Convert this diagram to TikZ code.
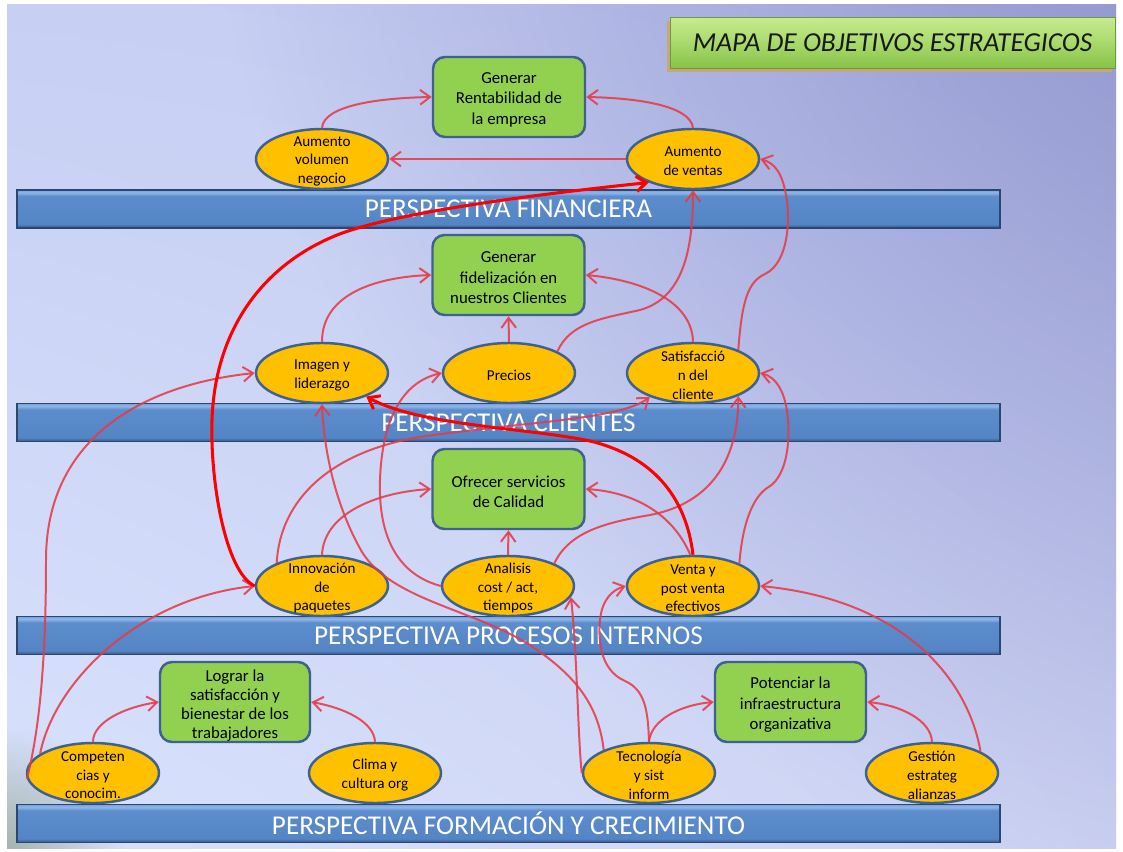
\documentclass[tikz,border=0pt]{standalone}
\usepackage{fontspec}
\setmainfont{Carlito}
\usetikzlibrary{arrows.meta,shapes.geometric,fadings,shadings}
\definecolor{edgeblue}{HTML}{3E6190}
\definecolor{boxgreen}{HTML}{92D050}
\definecolor{ellfill}{HTML}{FFC000}
\definecolor{connred}{HTML}{E63A48}
\definecolor{boldred}{HTML}{FF0000}
\definecolor{baredge}{HTML}{2B4670}
\definecolor{titleshadow}{HTML}{C7A77A}
\definecolor{titleedge}{HTML}{6E9A3A}
\definecolor{cornergreen}{HTML}{8A9C86}
\definecolor{bgUL}{HTML}{C7CFF3}
\definecolor{bgUR}{HTML}{C5CCF1}
\definecolor{bgLL}{HTML}{D8E2FC}
\definecolor{bgLR}{HTML}{CDD3F3}
\definecolor{bgdark}{HTML}{7F83C3}
\pgfdeclareverticalshading{barshade}{100bp}{rgb(0bp)=(0.20,0.33,0.53); rgb(25bp)=(0.20,0.33,0.53); rgb(30bp)=(0.33,0.52,0.77); rgb(67bp)=(0.36,0.55,0.80); rgb(71.5bp)=(0.56,0.71,0.91); rgb(75bp)=(0.47,0.64,0.86); rgb(100bp)=(0.47,0.64,0.86)}
\pgfdeclareverticalshading{titleshade}{100bp}{rgb(0bp)=(0.53,0.76,0.28); rgb(25bp)=(0.53,0.76,0.28); rgb(50bp)=(0.66,0.85,0.42); rgb(75bp)=(0.78,0.92,0.56); rgb(100bp)=(0.78,0.92,0.56)}
\tikzfading[name=cornerfade, inner color=transparent!35, outer color=transparent!100]
\tikzfading[name=darkfade, inner color=transparent!0, outer color=transparent!100]
\tikzset{
  ell/.style={ellipse, draw=edgeblue, line width=2.1pt, fill=ellfill, minimum width=3.96cm, minimum height=1.8cm, inner sep=0pt},
  etext/.style={align=center, font=\fontsize{12.9}{15.9}\selectfont, inner sep=0pt, text=black, yshift=-0.07cm},
  gbox/.style={rectangle, rounded corners=0.36cm, draw=edgeblue, line width=2.1pt, fill=boxgreen, minimum width=4.56cm, minimum height=2.4cm, inner sep=0pt},
  gtext/.style={align=center, font=\fontsize{14.3}{17.5}\selectfont, inner sep=0pt, text=black, yshift=-0.08cm},
  bar/.style={rectangle, shade, shading=barshade, draw=baredge, line width=1.2pt, minimum width=29.49cm, minimum height=1.14cm, inner sep=0pt, text=white, font=\fontsize{23.2}{28}\selectfont},
  titlebox/.style={rectangle, shade, shading=titleshade, draw=titleedge, line width=0.8pt, minimum width=13.35cm, minimum height=1.53cm, inner sep=0pt, text=black!90, font=\itshape\fontsize{23.4}{28}\selectfont},
  conn/.style={draw=connred, draw opacity=0.88, line width=1.7pt, -{Straight Barb[length=3mm,width=4.4mm]}},
  boldconn/.style={draw=boldred, line width=2.6pt, -{Straight Barb[length=3mm,width=4.6mm]}}
}
\begin{document}
\begin{tikzpicture}[x=0.03cm,y=-0.03cm]
\useasboundingbox (0,0) rectangle (1123,852);
\fill[white] (0,0) rectangle (1123,852);
% background
\begin{scope}
\clip (7,5) rectangle (1116,848);
\shade[upper left=bgUL, upper right=bgUR, lower left=bgLL, lower right=bgLR] (7,5) rectangle (1116,848);
\fill[bgdark, path fading=darkfade] (1400,-250) circle (1200);
\fill[cornergreen, path fading=cornerfade] (7,848) circle (120);
\end{scope}
% title
\fill[titleshadow] (667,21) rectangle (1112,72);
\node[titlebox] (title) at (892.5,43) {MAPA DE OBJETIVOS ESTRATEGICOS};
% bars
\node[bar] (finbar) at (508.5,209) {PERSPECTIVA FINANCIERA};
\node[bar] (clibar) at (508.5,422.5) {PERSPECTIVA CLIENTES};
\node[bar] (probar) at (508.5,635.5) {PERSPECTIVA PROCESOS INTERNOS};
\node[bar] (forbar) at (508.5,823.5) {PERSPECTIVA FORMACIÓN Y CRECIMIENTO};
% green boxes
\node[gbox] (g1) at (509,97) {};
\node[gbox] (g2) at (508.5,275) {};
\node[gbox] (g3) at (508.5,489) {};
\node[gbox, minimum width=4.5cm] (g4) at (235,702) {};
\node[gbox, minimum width=4.53cm] (g5) at (790.5,702) {};
\node[gtext] (g1-t) at (g1) {Generar\\Rentabilidad de\\la empresa};
\node[gtext] (g2-t) at (g2) {Generar\\fidelización en\\nuestros Clientes};
\node[gtext] (g3-t) at (g3) {Ofrecer servicios\\de Calidad};
\node[gtext, font=\fontsize{14.3}{16}\selectfont, yshift=-0.03cm] (g4-t) at (g4) {Lograr la\\satisfacción y\\bienestar de los\\trabajadores};
\node[gtext] (g5-t) at (g5) {Potenciar la\\infraestructura\\organizativa};
% ellipses
\node[ell] (avn) at (322,159) {};
\node[ell] (av) at (693,159) {};
\node[ell] (img) at (322,373) {};
\node[ell] (pre) at (509,373) {};
\node[ell] (sat) at (693,373) {};
\node[ell] (inn) at (322,586) {};
\node[ell] (ana) at (508,586) {};
\node[ell] (ven) at (693,586) {};
\node[ell] (comp) at (93,773) {};
\node[ell] (cli) at (375,773) {};
\node[ell] (tec) at (649,773) {};
\node[ell] (ges) at (932,773) {};
\node[etext] (avn-t) at (avn) {Aumento\\volumen\\negocio};
\node[etext] (av-t) at (av) {Aumento\\de ventas};
\node[etext] (img-t) at (img) {Imagen y\\liderazgo};
\node[etext] (pre-t) at (pre) {Precios};
\node[etext] (sat-t) at (sat) {Satisfacció\\n del\\cliente};
\node[etext] (inn-t) at (inn) {Innovación\\de\\paquetes};
\node[etext] (ana-t) at (ana) {Analisis\\cost / act,\\tiempos};
\node[etext] (ven-t) at (ven) {Venta y\\post venta\\efectivos};
\node[etext] (comp-t) at (comp) {Competen\\cias y\\conocim.};
\node[etext] (cli-t) at (cli) {Clima y\\cultura org};
\node[etext] (tec-t) at (tec) {Tecnología\\y sist\\inform};
\node[etext] (ges-t) at (ges) {Gestión\\estrateg\\alianzas};
% connectors
\draw[conn] (avn.north) .. controls (324,105) and (380,98) .. (g1.west);
\draw[conn] (av.north) .. controls (690,105) and (635,98) .. (g1.east);
\draw[conn] (av.west) -- (avn.east);
\draw[conn] (img.north) .. controls (322,292) and (380,277) .. (g2.west);
\draw[conn] (pre.north) -- (g2.south);
\draw[conn] (sat.north) .. controls (692,300) and (640,280) .. (g2.east);
\draw[conn] (pre.24) .. controls (570,322) and (605,318) .. (640,310) .. controls (683,298) and (693,250) .. (av.south);
\draw[conn] (sat.27) .. controls (742,300) and (748,282) .. (765,274) .. controls (790,262) and (790,215) .. (786,195) .. controls (782,172) and (774,163) .. (av.east);
\draw[conn] (inn.153) .. controls (280,500) and (330,452) .. (420,437) .. controls (520,422) and (620,420) .. (sat.209);
\draw[conn] (inn.north) .. controls (324,512) and (380,492) .. (g3.west);
\draw[conn] (ana.north) -- (g3.south);
\draw[conn] (ven.95) .. controls (672,512) and (632,492) .. (g3.east);
\draw[conn] (comp.185) .. controls (42,720) and (46,640) .. (46,560) .. controls (46,440) and (140,385) .. (img.west);
\draw[conn] (comp.160) .. controls (55,680) and (140,598) .. (inn.west);
\draw[conn] (comp.north) .. controls (93,722) and (125,707) .. (g4.west);
\draw[conn] (cli.north) .. controls (374,722) and (345,708) .. (g4.east);
\draw[conn] (tec.north) .. controls (651,720) and (680,705) .. (g5.west);
\draw[conn] (ges.north) .. controls (931,720) and (900,705) .. (g5.east);
\draw[conn] (tec.north) .. controls (648,710) and (645,690) .. (625,681) .. controls (600,670) and (598,640) .. (600,620) .. controls (602,600) and (612,590) .. (ven.west);
\draw[conn] (tec.180) .. controls (578,740) and (577,650) .. (ana.-10);
\draw[conn] (tec.153) .. controls (598,700) and (570,672) .. (530,645) .. controls (470,608) and (392,600) .. (362,552) .. controls (335,505) and (324,450) .. (img.south);
\draw[conn] (ana.west) .. controls (400,575) and (378,540) .. (380,480) .. controls (382,420) and (402,382) .. (pre.west);
\draw[conn] (ana.26) .. controls (570,530) and (610,522) .. (650,515) .. controls (702,505) and (738,470) .. (sat.-27);
\draw[conn] (ven.26) .. controls (742,530) and (750,500) .. (767,488) .. controls (786,478) and (790,445) .. (788,420) .. controls (786,392) and (776,377) .. (sat.east);
\draw[conn] (ges.24) .. controls (968,680) and (905,600) .. (ven.east);
% bold red connectors
\draw[boldconn] (ven.north) .. controls (686,496) and (652,456) .. (590,441) .. controls (530,428) and (420,426) .. (img.-28);
\draw[boldconn] (inn.west) .. controls (225,572) and (210,480) .. (212,420) .. controls (215,330) and (262,268) .. (330,238) .. controls (380,215) and (520,196) .. (av.208);
\end{tikzpicture}
\end{document}
